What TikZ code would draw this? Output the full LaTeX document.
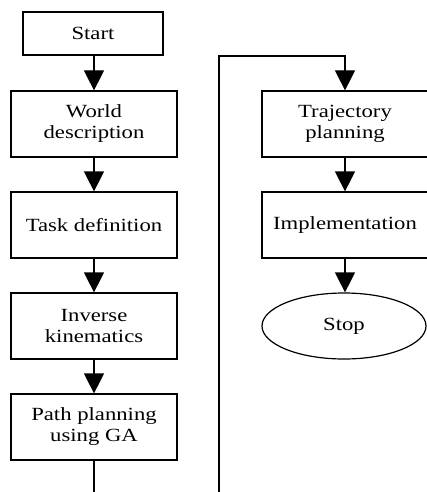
\documentclass[tikz,border=0pt]{standalone}
\usepackage{fontspec}
\setmainfont[FakeStretch=1.22]{Liberation Serif}
\usetikzlibrary{arrows.meta,shapes.geometric}

\begin{document}
\begin{tikzpicture}[x=1pt,y=-1pt,
  every node/.style={font=\fontsize{18.6}{21}\selectfont, align=center, inner sep=0pt},
  stepbox/.style={draw, line width=1.2pt, minimum width=166pt, minimum height=66pt},
  endbox/.style={draw, ellipse, line width=1.2pt, minimum width=164pt, minimum height=66pt},
  flow/.style={line width=1.2pt, -{Triangle[length=20pt,width=20pt]}},
  loopline/.style={line width=1.2pt}]
  \useasboundingbox (0,0) rectangle (427,492);
  \clip (0,0) rectangle (427,492);

  % left column
  \node[draw, line width=1.2pt, minimum width=140pt, minimum height=43pt] (start) at (93,33.5) {Start};
  \node[stepbox] (world) at (94,124) {World\\description};
  \node[stepbox] (task) at (94,225) {Task definition};
  \node[stepbox] (ik) at (94,326) {Inverse\\kinematics};
  \node[stepbox] (path) at (94,427) {Path planning\\using GA};

  % right column
  \node[stepbox] (traj) at (345,124) {Trajectory\\planning};
  \node[stepbox] (impl) at (345,225) {Implementation};
  \node[endbox] (stop) at (344,326) {Stop};

  \coordinate (down) at (94,520);
  \coordinate (up) at (219,520);
  \coordinate (top) at (219,56);

  \draw[flow] (start.south -| world.north) -- (world);
  \draw[flow] (world) -- (task);
  \draw[flow] (task) -- (ik);
  \draw[flow] (ik) -- (path);
  \draw[flow] (path.south) -- (down) -- (up) -- (top) -| (traj.north);
  \draw[flow] (traj) -- (impl);
  \draw[flow] (impl.south) -- (impl.south |- stop.north);
\end{tikzpicture}
\end{document}
